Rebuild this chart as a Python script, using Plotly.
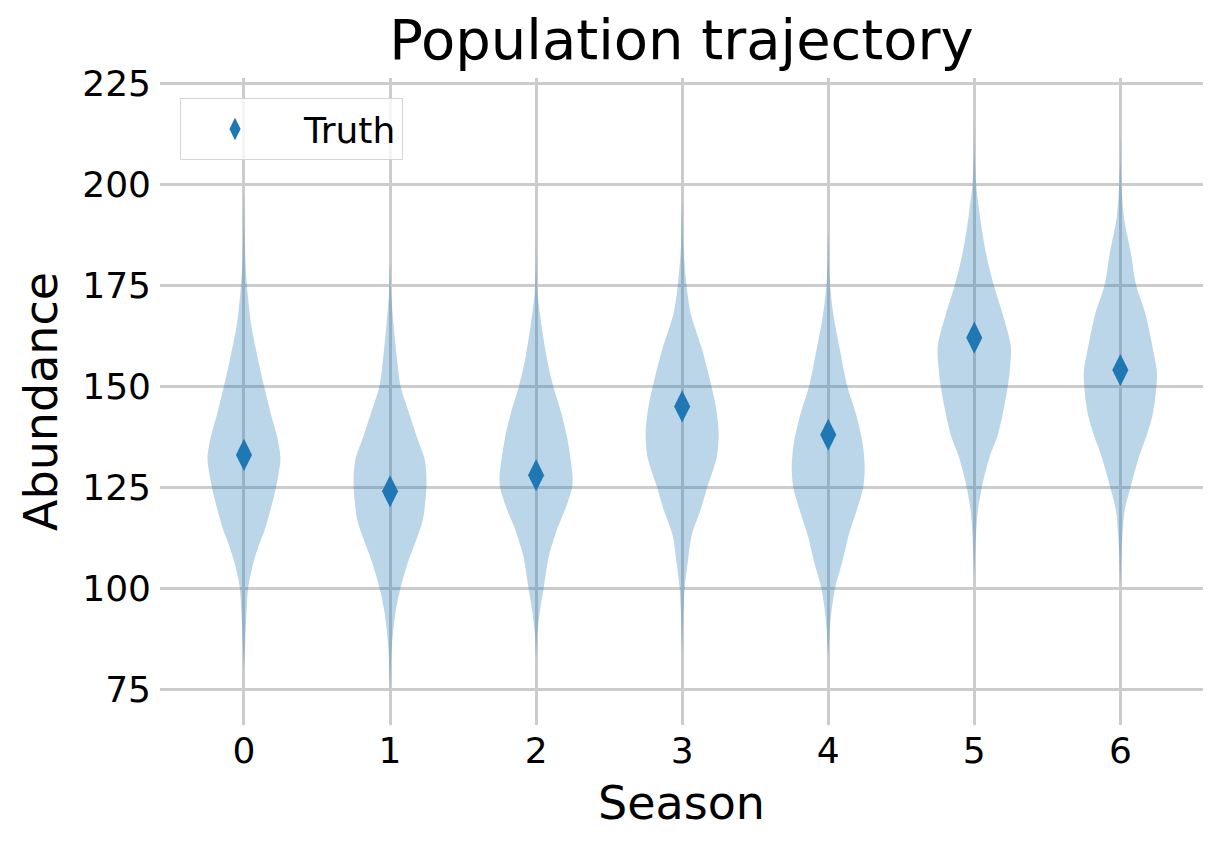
import plotly.graph_objects as go

# ---------------- data ----------------
seasons = [0, 1, 2, 3, 4, 5, 6]
truth = [133, 124, 128, 145, 138, 162, 154]

# violin profiles: abundance levels and relative density (max = 1)
s0_levels = [198, 190, 181, 173, 165, 156, 150, 143, 137, 132, 128, 123, 118.6, 114.5, 111.2, 106.4, 100.5, 94, 86, 80]
s0_density = [0, 0.015, 0.04, 0.10, 0.20, 0.40, 0.55, 0.74, 0.92, 1.0, 0.94, 0.83, 0.70, 0.57, 0.43, 0.26, 0.12, 0.07, 0.03, 0]

s1_levels = [180, 173, 165, 156, 150, 143.4, 136.8, 131.8, 126.8, 122.8, 117, 113, 106.4, 100.2, 94, 85.7, 77, 74]
s1_density = [0, 0.03, 0.10, 0.20, 0.29, 0.52, 0.76, 0.95, 1.0, 0.98, 0.90, 0.76, 0.49, 0.29, 0.15, 0.05, 0.01, 0]

s2_levels = [188, 181, 173, 165, 156.6, 150, 143.4, 136.8, 127.7, 125.2, 120.3, 114.5, 108, 100.2, 94, 88.3, 82]
s2_density = [0, 0.01, 0.04, 0.15, 0.30, 0.47, 0.69, 0.86, 1.0, 0.99, 0.83, 0.57, 0.35, 0.21, 0.10, 0.03, 0]

s3_levels = [196, 185, 175, 167.8, 159, 150.1, 145.1, 138.7, 132.5, 125.1, 119.3, 113.1, 106.9, 100.1, 92.8, 83]
s3_density = [0, 0.03, 0.12, 0.24, 0.55, 0.80, 0.92, 1.0, 0.95, 0.69, 0.50, 0.26, 0.16, 0.07, 0.03, 0]

s4_levels = [188, 180, 175, 167.8, 159, 150.1, 143.1, 136, 129.9, 125.1, 119.3, 113.1, 106, 100.1, 92.8, 85, 83]
s4_density = [0, 0.02, 0.05, 0.14, 0.32, 0.52, 0.76, 0.94, 1.0, 0.96, 0.78, 0.56, 0.37, 0.19, 0.07, 0.01, 0]

s5_levels = [216, 208, 200, 191.7, 182.9, 175.1, 167.8, 159.9, 153.7, 150.1, 143.1, 137.8, 132.5, 125.1, 119.3, 110.4, 103]
s5_density = [0, 0.01, 0.05, 0.16, 0.32, 0.53, 0.78, 1.0, 0.97, 0.92, 0.78, 0.64, 0.42, 0.21, 0.10, 0.03, 0]

s6_levels = [212, 205, 200, 191.7, 182.9, 175.1, 167.8, 160.7, 153.7, 150.1, 143.1, 137.8, 132.5, 125.1, 119.3, 110.4, 101]
s6_density = [0, 0.01, 0.03, 0.10, 0.29, 0.43, 0.69, 0.86, 1.0, 0.99, 0.89, 0.72, 0.51, 0.28, 0.12, 0.04, 0]

profiles = [
    (s0_levels, s0_density), (s1_levels, s1_density), (s2_levels, s2_density),
    (s3_levels, s3_density), (s4_levels, s4_density), (s5_levels, s5_density),
    (s6_levels, s6_density),
]

x_ticks = [0, 1, 2, 3, 4, 5, 6]
y_ticks = [75, 100, 125, 150, 175, 200, 225]

# ---------------- style ----------------
BLUE = "#1f77b4"
FILL = "rgba(31,119,180,0.3)"
GRID = "#cccccc"
FONT = "DejaVu Sans"
HALF_WIDTH = 0.25

fig = go.Figure()

for s, (lv, dens) in zip(seasons, profiles):
    xs = [s - HALF_WIDTH * d for d in dens] + [s + HALF_WIDTH * d for d in reversed(dens)]
    ys = list(lv) + list(reversed(lv))
    fig.add_trace(go.Scatter(
        x=xs, y=ys, mode="lines", fill="toself", fillcolor=FILL,
        line=dict(width=0, color=FILL, shape="spline", smoothing=0.8),
        showlegend=False, hoverinfo="skip",
    ))

fig.add_trace(go.Scatter(
    x=seasons, y=truth, mode="markers", name="Truth",
    marker=dict(symbol="diamond-tall", size=23, color=BLUE, line=dict(width=0)),
))

fig.update_layout(
    width=1224, height=850,
    margin=dict(l=152, r=29, t=70, b=133, autoexpand=False),
    paper_bgcolor="white", plot_bgcolor="white",
    font=dict(family=FONT, color="black", size=36),
    title=dict(text="Population trajectory", font=dict(size=56, family=FONT, color="black"),
               xref="paper", x=0.5, xanchor="center", y=0.963, yanchor="middle", yref="container"),
    showlegend=True,
    legend=dict(x=0.0192, y=0.969, xanchor="left", yanchor="top",
                bgcolor="rgba(255,255,255,0.8)", bordercolor="#d5d5d5", borderwidth=1,
                font=dict(size=36, family=FONT, color="black"),
                itemsizing="trace", indentation=-15, itemwidth=128),
    xaxis=dict(range=[-0.575, 6.566], tickmode="array", tickvals=x_ticks,
               ticktext=[str(t) for t in x_ticks], automargin=False,
               showgrid=True, gridcolor=GRID, gridwidth=2.5, zeroline=False,
               showline=False, ticks="", ticklabelstandoff=1,
               tickfont=dict(size=36, family=FONT, color="black"),
               title=dict(text="Season", font=dict(size=46, family=FONT, color="black"), standoff=16)),
    yaxis=dict(range=[66.2, 226.24], tickmode="array", tickvals=y_ticks,
               ticktext=[str(t) for t in y_ticks], automargin=False,
               showgrid=True, gridcolor=GRID, gridwidth=2.5, zeroline=False,
               showline=False, ticks="", ticklabelstandoff=8,
               tickfont=dict(size=36, family=FONT, color="black"),
               title=dict(text="Abundance", font=dict(size=46, family=FONT, color="black"), standoff=10)),
)

fig.write_html("out.html")
